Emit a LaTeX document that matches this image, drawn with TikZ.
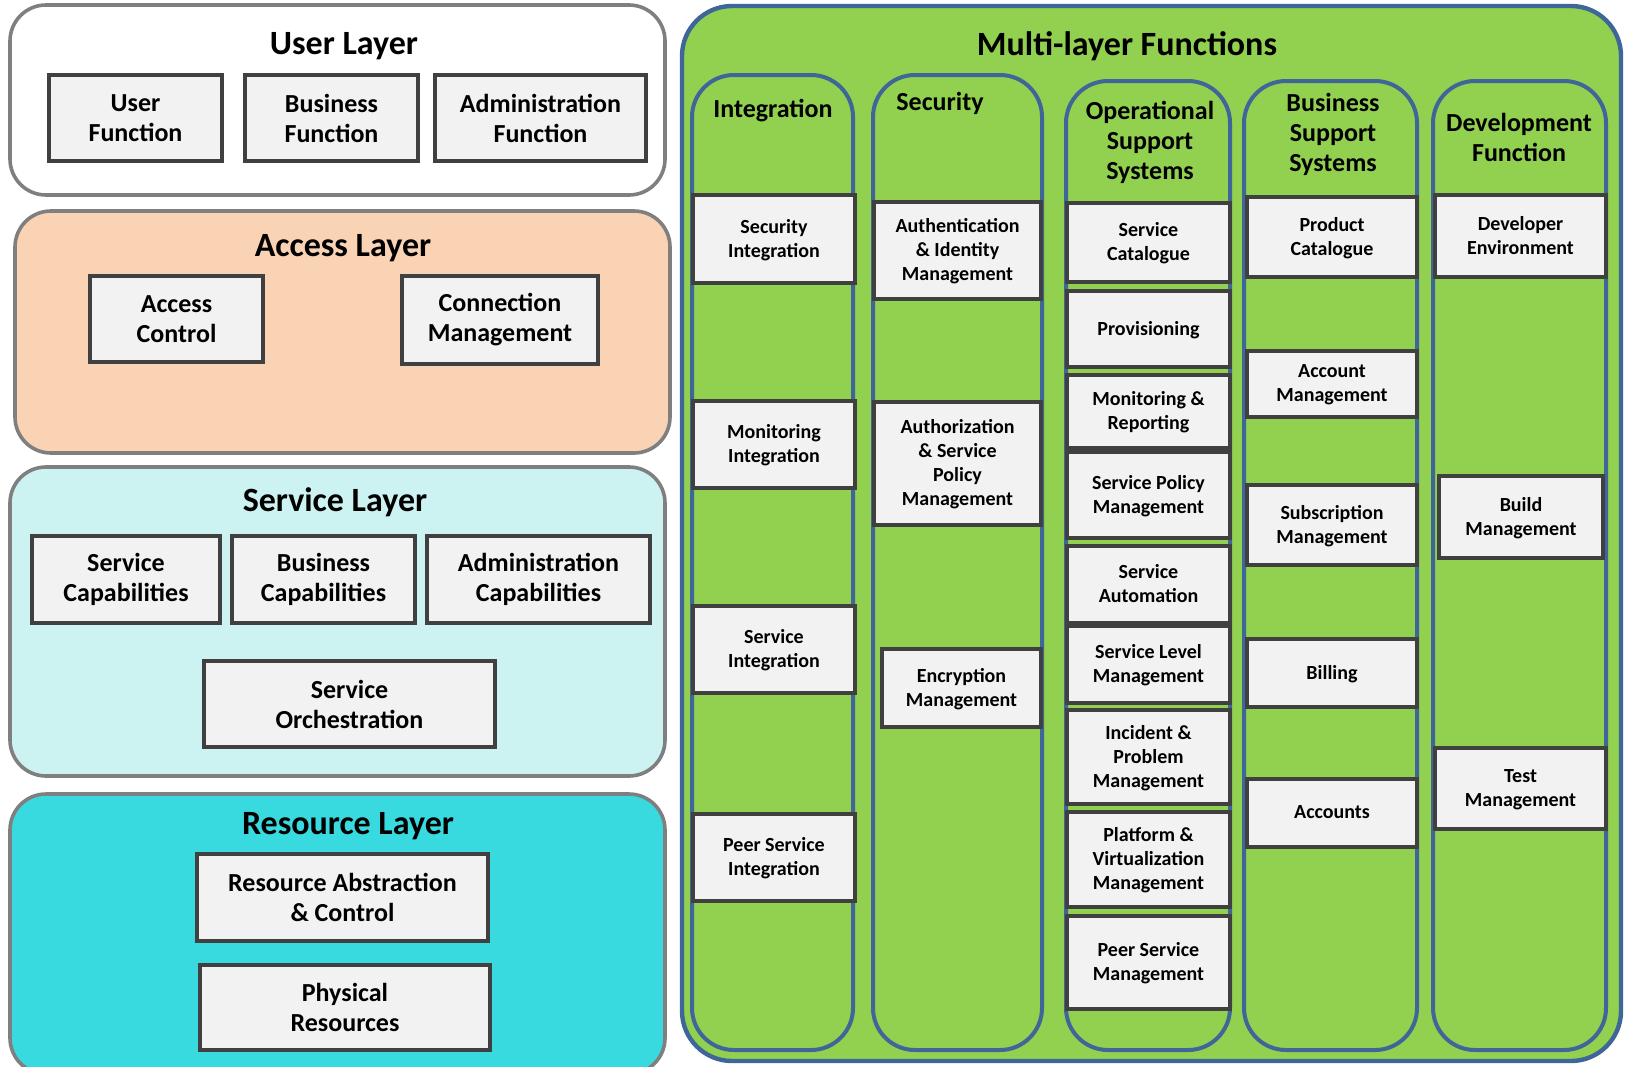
\documentclass[tikz,border=0pt]{standalone}
\usepackage{fontspec}
\setmainfont{Carlito}
\definecolor{edge}{HTML}{7F7F7F}
\definecolor{boxline}{HTML}{404040}
\definecolor{boxfill}{HTML}{F2F2F2}
\definecolor{peach}{HTML}{F9D3B4}
\definecolor{aqua}{HTML}{CCF2F1}
\definecolor{resfill}{HTML}{38DAE0}
\definecolor{leaf}{HTML}{92D050}
\definecolor{steel}{HTML}{3F6698}

\begin{document}
\begin{tikzpicture}[x=0.5pt,y=-0.5pt,
  layer/.style={draw=edge,line width=1.8pt,rounded corners=18pt},
  column/.style={draw=steel,line width=2pt,rounded corners=21pt},
  spot/.style n args={4}{minimum width={(#3-#1)/2},minimum height={(#4-#2)/2},at={({(#1+#3)/2},{(#2+#4)/2})}},
  func/.style={draw=boxline,fill=boxfill,line width=2pt,inner sep=0pt,align=center,font=\bfseries\fontsize{13}{15}\selectfont},
  part/.style={func,font=\bfseries\fontsize{10}{12}\selectfont,text depth=1pt},
  title/.style={font=\bfseries\fontsize{17}{20}\selectfont},
  head/.style={align=center,font=\bfseries\fontsize{13}{15}\selectfont}]
\useasboundingbox (0,0) rectangle (1625,1066);
% user layer
\draw[layer,fill=white] (10,5) rectangle (665,195);
\node[title] (user) at (344,46) {User Layer};
\node[func,spot={49}{75}{222}{161}] (uf) {User\\Function};
\node[func,spot={245}{75}{418}{161}] (bf) {Business\\Function};
\node[func,spot={435}{75}{646}{161}] (af) {Administration\\Function};
% access layer
\draw[layer,fill=peach] (15,211) rectangle (670,453);
\node[title] (access) at (343,248) {Access Layer};
\node[func,spot={90}{276}{263}{362}] (ac) {Access\\Control};
\node[func,spot={402}{276}{598}{364}] (cm) {Connection\\Management};
% service layer
\draw[layer,fill=aqua] (10,467) rectangle (665,776);
\node[title] (service) at (335,502) {Service Layer};
\node[func,spot={32}{536}{220}{623}] (sc) {Service\\Capabilities};
\node[func,spot={232}{536}{415}{623}] (bc) {Business\\Capabilities};
\node[func,spot={427}{536}{650}{623}] (adc) {Administration\\Capabilities};
\node[func,spot={204}{661}{495}{747}] (so) {Service\\Orchestration};
% resource layer
\draw[layer,fill=resfill] (10,794) rectangle (665,1074);
\node[title] (resource) at (348,826) {Resource Layer};
\node[func,spot={197}{854}{488}{941}] (rac) {Resource Abstraction\\\& Control};
\node[func,spot={200}{965}{490}{1050}] (pr) {Physical\\Resources};
% multi-layer functions
\draw[draw=steel,line width=2.2pt,rounded corners=25pt,fill=leaf] (682,6) rectangle (1621,1061);
\node[title] (multi) at (1127,46) {Multi-layer Functions};
\draw[column] (692,75) rectangle (853,1050);
\draw[column] (873,75) rectangle (1042,1050);
\draw[column] (1066,81) rectangle (1230,1050);
\draw[column] (1244,81) rectangle (1417,1050);
\draw[column] (1433,81) rectangle (1606,1050);
\node[head] (integ) at (773,111) {Integration};
\node[head] (secur) at (940,103) {Security};
\node[head] (oss) at (1150,142) {Operational\\Support\\Systems};
\node[head] (bss) at (1333,134) {Business\\Support\\Systems};
\node[head] (dev) at (1519,137) {Development\\Function};
% boxes in the columns
\foreach \a/\b/\n/\lab in {193/281/si/{Security\\Integration},399/486/mi/{Monitoring\\Integration},
    604/691/svi/{Service\\Integration},812/899/psi/{Peer Service\\Integration}}
  {\node[part,spot={693}{\a}{855}{\b},yshift=-1pt] (\n) {\lab};}
\foreach \a/\b/\n/\lab in {200/297/aim/{Authentication\\\& Identity\\Management},400/523/asp/{Authorization\\\& Service\\Policy\\Management}}
  {\node[part,spot={874}{\a}{1041}{\b},yshift=-1pt] (\n) {\lab};}
\node[part,spot={882}{647}{1041}{725},yshift=-1pt] (em) {Encryption\\Management};
\foreach \a/\b/\n/\lab in {201/280/scat/{Service\\Catalogue},289/365/prov/{Provisioning},373/446/mr/{Monitoring \&\\Reporting},
    450/536/spm/{Service Policy\\Management},544/621/sa/{Service\\Automation},624/701/slm/{Service Level\\Management},
    708/802/ipm/{Incident \&\\Problem\\Management},810/905/pvm/{Platform \&\\Virtualization\\Management},914/1007/psm/{Peer Service\\Management}}
  {\node[part,spot={1067}{\a}{1230}{\b},yshift=-1pt] (\n) {\lab};}
\foreach \a/\b/\n/\lab in {195/275/pc/{Product\\Catalogue},349/415/am/{Account\\Management},483/563/sm/{Subscription\\Management},
    637/705/bill/{Billing},777/845/acc/{Accounts}}
  {\node[part,spot={1247}{\a}{1417}{\b},yshift=-1pt] (\n) {\lab};}
\node[part,spot={1435}{193}{1606}{275},yshift=-1pt] (de) {Developer\\Environment};
\node[part,spot={1439}{474}{1603}{556},yshift=-1pt] (bm) {Build\\Management};
\node[part,spot={1435}{746}{1606}{827},yshift=-1pt] (tm) {Test\\Management};
\end{tikzpicture}
\end{document}
